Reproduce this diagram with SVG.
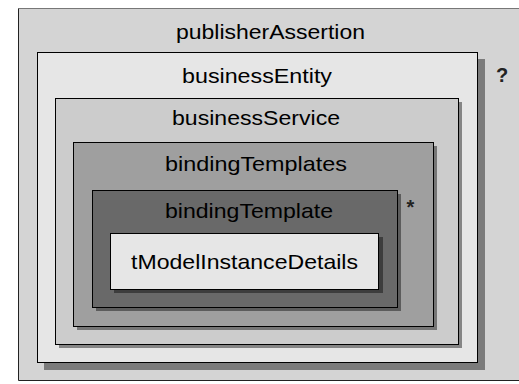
<svg xmlns="http://www.w3.org/2000/svg" width="519" height="384" viewBox="0 0 519 384">
<style>
.box{stroke:#000;stroke-width:1}
.sh{fill:#000;fill-opacity:0.42}
.lbl{font-family:"Liberation Sans",Arial,sans-serif;font-size:21px;fill:#000;text-anchor:middle}
.mark{font-family:"Liberation Sans",Arial,sans-serif;font-size:20px;font-weight:bold;fill:#222;text-anchor:middle}
</style>
<rect x="0" y="0" width="519" height="384" fill="#fff"/>
<g id="publisherAssertion">
<rect x="18.5" y="8.5" width="520" height="372" fill="#d4d4d4" stroke="none"/>
<line x1="18.5" y1="8.5" x2="519" y2="8.5" stroke="#777"/>
<line x1="18.5" y1="8.5" x2="18.5" y2="380.5" stroke="#222"/>
<line x1="18.5" y1="380.5" x2="519" y2="380.5" stroke="#222"/>
<text class="lbl" x="270.5" y="39" textLength="189" lengthAdjust="spacingAndGlyphs">publisherAssertion</text>
<text class="mark" x="502" y="82">?</text>
</g>
<g id="businessEntity">
<rect class="sh" x="44" y="59" width="441" height="311"/>
<rect class="box" x="37.5" y="52.5" width="440" height="310" fill="#e6e6e6"/>
<text class="lbl" x="257" y="83" textLength="150" lengthAdjust="spacingAndGlyphs">businessEntity</text>
</g>
<g id="businessService">
<rect class="sh" x="59" y="102" width="403" height="246"/>
<rect class="box" x="55.5" y="98.5" width="403" height="246" fill="#cccccc"/>
<text class="lbl" x="256" y="125" textLength="168" lengthAdjust="spacingAndGlyphs">businessService</text>
</g>
<g id="bindingTemplates">
<rect class="sh" x="77" y="146" width="360" height="184"/>
<rect class="box" x="73.5" y="142.5" width="360" height="184" fill="#9f9f9f"/>
<text class="lbl" x="256" y="171" textLength="182" lengthAdjust="spacingAndGlyphs">bindingTemplates</text>
<text class="mark" x="410.5" y="214">*</text>
</g>
<g id="bindingTemplate">
<rect class="sh" x="96" y="194" width="305" height="117"/>
<rect class="box" x="92.5" y="190.5" width="305" height="117" fill="#696969"/>
<text class="lbl" x="249" y="218" textLength="168" lengthAdjust="spacingAndGlyphs">bindingTemplate</text>
</g>
<g id="tModelInstanceDetails">
<rect class="sh" x="114" y="237" width="269" height="56"/>
<rect class="box" x="110.5" y="233.5" width="268" height="56" fill="#e6e6e6"/>
<text class="lbl" x="244.5" y="269" textLength="227" lengthAdjust="spacingAndGlyphs">tModelInstanceDetails</text>
</g>
<g id="connectors"></g>
</svg>
